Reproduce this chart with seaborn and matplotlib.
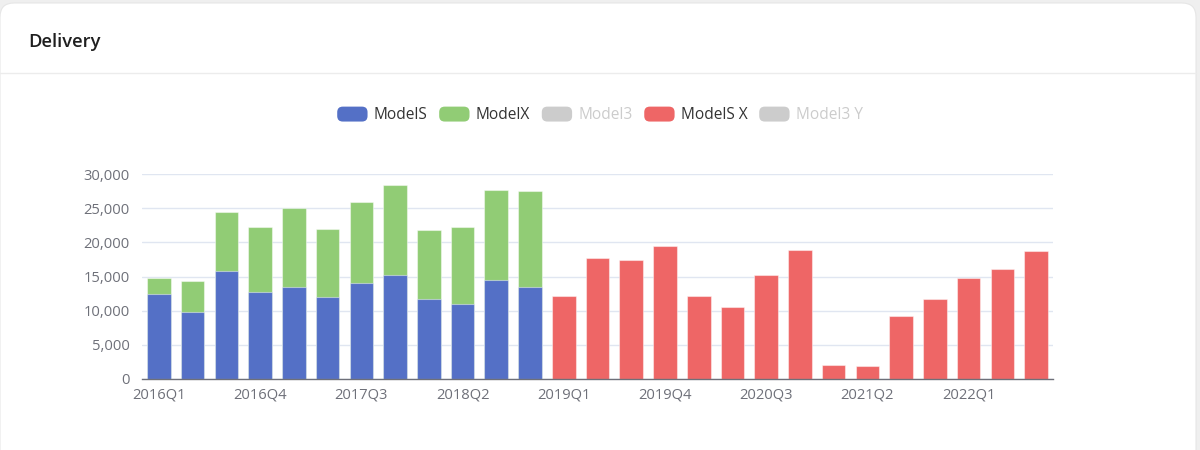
import matplotlib
matplotlib.use("Agg")
import matplotlib.pyplot as plt
import seaborn as sns
import numpy as np
import pandas as pd
from matplotlib.patches import Patch, FancyBboxPatch
from matplotlib.legend_handler import HandlerPatch
from matplotlib.ticker import FixedLocator, FuncFormatter

sns.set_style("white")
plt.rcParams['font.family'] = ['Open Sans', 'DejaVu Sans']

quarters = [f"{y}Q{q}" for y in range(2016, 2023) for q in range(1, 5)][:27]

model_s = [12420, 9764, 15800, 12700, 13450, 12000, 14065, 15200, 11730, 10930, 14470, 13500]
model_x = [2400, 4638, 8700, 9500, 11550, 10000, 11865, 13120, 10070, 11370, 13190, 14050]
model_sx = [12100, 17650, 17400, 19450, 12200, 10600, 15200, 18920,
            2020, 1890, 9275, 11750, 14724, 16162, 18672]

legend_names = ["ModelS", "ModelX", "Model3", "ModelS X", "Model3 Y"]
legend_on = [True, True, False, True, False]

blue, green, red, gray = "#5470c6", "#91cc75", "#ee6666", "#cccccc"

n_old = len(model_s)
df = pd.DataFrame({
    "quarter": quarters,
    "s": model_s + [np.nan] * len(model_sx),
    "x": model_x + [np.nan] * len(model_sx),
    "sx": [np.nan] * n_old + model_sx,
})
df["s_x_top"] = df["s"] + df["x"]

fig = plt.figure(figsize=(12, 4.5), dpi=100)
fig.patch.set_facecolor("#efefef")

# white card
card = FancyBboxPatch((0, -20), 1196, 467, boxstyle="round,pad=0,rounding_size=14",
                      transform=None, facecolor="white", edgecolor="#e6e6e6", lw=0.8,
                      zorder=-10)
fig.patches.append(card)
fig.add_artist(plt.Line2D([0, 1196 / 1200], [1 - 73 / 450] * 2, color="#ececec", lw=1,
                          zorder=-5))
fig.text(28 / 1200, 1 - 42 / 450, "Delivery", fontsize=13.2, fontweight="semibold",
         color="#1f1f1f", va="center", ha="left")

ax = fig.add_axes([142 / 1200, 71 / 450, 911 / 1200, 205 / 450])
ax.patch.set_alpha(0)
bw = 0.7
edge = (1, 1, 1, 0.45)
sns.barplot(data=df, x="quarter", y="s_x_top", order=quarters, color=green,
            saturation=1, width=bw, errorbar=None, ax=ax, linewidth=0.8, edgecolor=edge)
sns.barplot(data=df, x="quarter", y="s", order=quarters, color=blue,
            saturation=1, width=bw, errorbar=None, ax=ax, linewidth=0.8, edgecolor=edge)
sns.barplot(data=df, x="quarter", y="sx", order=quarters, color=red,
            saturation=1, width=bw, errorbar=None, ax=ax, linewidth=0.8, edgecolor=edge)

ax.set_xlim(-0.5, len(quarters) - 0.5)
ax.set_ylim(0, 30000)
ax.set_xlabel("")
ax.set_ylabel("")

# y axis
ax.yaxis.set_major_locator(FixedLocator(range(0, 30001, 5000)))
ax.yaxis.set_major_formatter(FuncFormatter(lambda v, p: f"{int(v):,}"))
ax.grid(axis="y", color="#e0e6f1", lw=1)
ax.set_axisbelow(True)
ax.tick_params(axis="y", length=0, pad=9, labelsize=10.6, labelcolor="#6e7079")

# x axis: ticks on boundaries, labels on category centres
ax.xaxis.set_major_locator(FixedLocator(np.arange(-0.5, len(quarters), 3)))
ax.xaxis.set_major_formatter(FuncFormatter(lambda v, p: ""))
ax.xaxis.set_minor_locator(FixedLocator(np.arange(0, len(quarters), 3)))
ax.set_xticklabels([quarters[i] for i in range(0, len(quarters), 3)], minor=True)
ax.tick_params(axis="x", which="major", length=5, width=1, color="#6e7079", direction="out")
ax.tick_params(axis="x", which="minor", length=0, pad=6, labelsize=10.6, labelcolor="#6e7079")

for side in ["left", "right", "top"]:
    ax.spines[side].set_visible(False)
ax.spines["bottom"].set_color("#6e7079")
ax.spines["bottom"].set_linewidth(1)


def rounded(legend, orig_handle, xdescent, ydescent, width, height, fontsize):
    return FancyBboxPatch((-xdescent, -ydescent), width, height,
                          boxstyle="round,pad=0,rounding_size=4")


colors = [blue if legend_on[0] else gray, green if legend_on[1] else gray, gray,
          red if legend_on[3] else gray, gray]
handles = [Patch(facecolor=c, edgecolor="none") for c in colors]
leg = fig.legend(handles, legend_names, loc="center", bbox_to_anchor=(0.5, 1 - 115 / 450),
                 ncol=5, frameon=False, fontsize=11.2, handlelength=1.95, handleheight=1.1,
                 handletextpad=0.4, columnspacing=0.75,
                 handler_map={Patch: HandlerPatch(patch_func=rounded)})
for t, on in zip(leg.get_texts(), legend_on):
    t.set_color("#333333" if on else "#cccccc")

fig.savefig("out.png", dpi=100, facecolor=fig.get_facecolor())
